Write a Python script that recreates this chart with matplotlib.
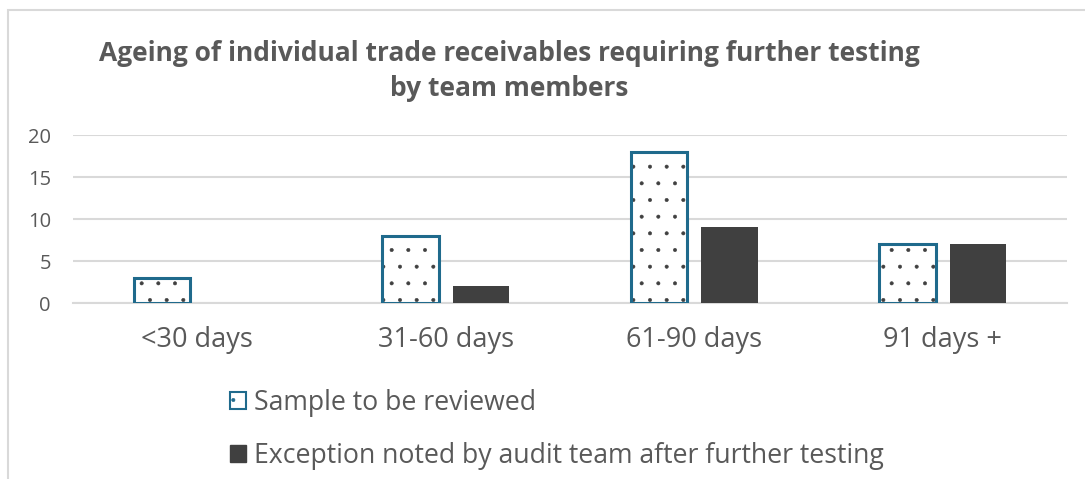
import numpy as np
import matplotlib
matplotlib.use("Agg")
import matplotlib.pyplot as plt
from matplotlib.patches import Patch, Rectangle

plt.rcParams["font.family"] = ["Open Sans", "DejaVu Sans"]
plt.rcParams["hatch.linewidth"] = 0.4

categories = ["<30 days", "31-60 days", "61-90 days", "91 days +"]
sample = [3, 8, 18, 7]
exception = [0, 2, 9, 7]
series_names = ["Sample to be reviewed",
                "Exception noted by audit team after further testing"]
title = "Ageing of individual trade receivables requiring further testing\nby team members"

text_grey = "#595959"
edge_blue = "#1F6A8C"
dark = "#404040"

fig = plt.figure(figsize=(10.85, 4.79), dpi=100)
ax = fig.add_axes([0.0673, 0.3674, 0.9161, 0.3507])

# chart border (Excel chart area)
fig.patches.append(Rectangle((8 / 1085, -0.1), 1.2, 1 - 10 / 479 + 0.1,
                             transform=fig.transFigure, fill=False,
                             edgecolor="#D9D9D9", linewidth=1.5))

x = np.arange(len(categories))
off = 0.142
w = 0.227

# dotted fill, then blue outline on top
ax.bar(x - off, sample, w, color="white", edgecolor=dark, hatch=".", linewidth=0, zorder=3)
ax.bar(x - off, sample, w, fill=False, edgecolor=edge_blue, linewidth=2.2, zorder=4)
ax.bar(x + off, exception, w, color=dark, linewidth=0, zorder=3)

ax.set_xlim(-0.5, len(categories) - 0.5)
ax.set_ylim(0, 20)
ax.set_yticks([0, 5, 10, 15, 20])
ax.yaxis.grid(True, color="#D9D9D9", linewidth=1.5)
ax.set_axisbelow(True)
for s in ["top", "right", "left"]:
    ax.spines[s].set_visible(False)
ax.spines["bottom"].set_color("#D9D9D9")
ax.spines["bottom"].set_linewidth(1.5)
ax.tick_params(axis="both", length=0, colors=text_grey, labelsize=14.5)
ax.tick_params(axis="y", pad=16)
ax.set_xticks(x)
ax.set_xticklabels(categories, fontsize=19.5)
ax.tick_params(axis="x", pad=16.5)

fig.text(509 / 1085, 1 - 71 / 479, title, ha="center", va="center",
         fontsize=19, fontweight="bold", color=text_grey, linespacing=1.4)

handles = [Patch(facecolor="white", edgecolor=edge_blue, hatch=".", linewidth=1.5),
           Patch(facecolor=dark, edgecolor=dark)]
fig.legend(handles, series_names, loc="upper left",
           bbox_to_anchor=(230 / 1085, 1 - 389 / 479), frameon=False,
           borderaxespad=0, borderpad=0,
           fontsize=19.2, labelcolor=text_grey, handlelength=0.6,
           handleheight=0.6, handletextpad=0.3, labelspacing=0.95)

fig.savefig("out.png", dpi=100)
